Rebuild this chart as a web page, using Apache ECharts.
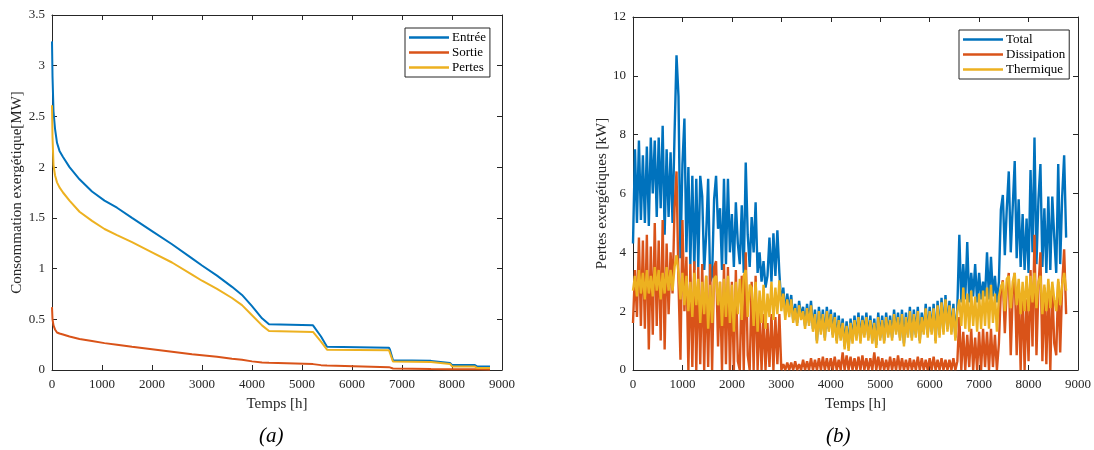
<!DOCTYPE html>
<html>
<head>
<meta charset="utf-8">
<script src="https://cdn.jsdelivr.net/npm/echarts@6/dist/echarts.min.js"></script>
<style>html,body{margin:0;padding:0;background:#fff}#c{width:1094px;height:450px}</style>
</head>
<body>
<div id="c"></div>
<script>
// ---------- Chart (a): duration curves ----------
const hoursA = [0,10,30,60,100,150,220,350,550,800,1050,1300,1600,2000,2400,2800,3000,3300,3600,3800,4000,4200,4340,5220,5260,5380,5500,6740,6760,6820,7580,7620,7960,8000,8450,8500,8760];
const entree = [3.24,2.9,2.55,2.38,2.24,2.16,2.1,2.0,1.88,1.76,1.67,1.6,1.5,1.37,1.24,1.1,1.03,0.93,0.82,0.74,0.63,0.51,0.45,0.44,0.43,0.33,0.23,0.22,0.2,0.095,0.09,0.075,0.07,0.05,0.05,0.035,0.035];
const sortie = [0.62,0.5,0.44,0.40,0.37,0.36,0.35,0.33,0.305,0.285,0.265,0.25,0.23,0.205,0.18,0.155,0.145,0.13,0.11,0.1,0.085,0.075,0.072,0.058,0.055,0.048,0.045,0.028,0.025,0.015,0.01,0.01,0.008,0.008,0.007,0.007,0.005];
const pertes = [2.61,2.3,2.02,1.92,1.85,1.80,1.75,1.67,1.56,1.47,1.39,1.33,1.26,1.16,1.06,0.94,0.88,0.8,0.71,0.64,0.54,0.44,0.385,0.375,0.37,0.28,0.2,0.195,0.18,0.083,0.08,0.065,0.06,0.035,0.035,0.02,0.02];

// ---------- Chart (b): hourly losses, read every 40 h (rows of 800 h) ----------
const stepB = 40;
const total = [
4.3,7.5,5.0,7.8,5.1,7.3,5.0,7.6,4.9,7.9,6.0,7.8,5.2,7.9,5.5,8.3,4.6,7.5,5.2,7.4,
5.0,8.0,10.7,9.3,3.8,7.0,8.55,4.0,6.9,3.6,6.6,3.4,6.5,3.5,6.6,5.9,3.4,4.6,6.5,3.0,
3.2,5.8,6.6,4.8,5.5,3.4,6.5,3.6,6.5,4.0,5.3,3.5,5.7,4.3,3.6,5.6,3.3,7.05,4.6,3.5,
5.2,4.0,5.7,3.3,4.0,3.0,3.7,2.8,3.2,4.5,3.0,4.65,3.2,4.75,3.3,2.2,2.8,1.9,2.6,2.0,
2.55,1.7,2.25,1.6,2.35,1.8,2.15,1.5,2.25,1.6,2.35,1.4,2.05,1.0,2.15,1.3,2.05,1.1,2.15,1.4,
2.05,1.2,1.95,1.0,1.85,1.1,1.75,0.8,1.65,0.75,1.75,1.0,1.85,1.1,1.95,1.0,1.85,1.2,1.95,1.1,
1.85,1.0,1.75,0.85,1.95,1.1,1.85,1.0,1.95,1.2,1.85,1.1,2.05,1.3,1.95,1.1,2.05,0.9,1.95,1.2,
2.15,1.1,2.05,1.2,2.15,1.0,1.95,1.3,2.25,1.2,2.15,1.3,2.25,1.0,2.35,1.2,2.45,1.3,2.55,1.4,
2.35,1.3,2.25,1.1,2.15,4.6,2.3,3.6,2.4,4.35,2.3,3.3,2.5,3.6,2.3,3.3,2.4,3.0,2.5,4.0,
2.4,3.85,2.5,3.2,2.3,3.0,5.45,5.95,3.9,5.5,6.75,4.0,5.55,7.1,3.8,5.8,3.5,5.3,3.4,5.15,
3.3,6.8,4.0,7.9,3.6,5.8,7.0,3.5,5.5,3.3,5.9,3.4,5.9,4.5,3.3,7.0,3.6,5.9,7.3,4.5];
const dissipation = [
1.6,3.4,1.8,4.5,1.5,4.4,1.4,4.6,0.7,4.2,1.2,5.0,1.5,4.4,1.0,5.1,0.7,4.3,1.9,4.0,
2.6,5.5,6.75,3.0,0.35,5.1,2.0,3.85,0.0,3.6,0.1,3.7,0.0,3.5,0.2,3.6,0.0,3.2,0.1,3.6,
0.0,3.5,3.7,0.8,3.0,0.0,3.6,0.2,3.5,0.0,3.0,0.0,3.4,0.3,0.0,3.2,0.0,4.0,0.5,0.0,
3.0,0.0,3.2,0.0,2.0,0.0,1.9,0.0,1.6,0.1,1.9,0.0,1.8,0.2,1.9,0.0,0.2,0.0,0.25,0.0,
0.25,0.0,0.3,0.0,0.2,0.0,0.35,0.0,0.3,0.0,0.4,0.0,0.35,0.0,0.4,0.0,0.45,0.0,0.4,0.0,
0.4,0.0,0.45,0.0,0.35,0.0,0.6,0.0,0.5,0.0,0.45,0.0,0.4,0.0,0.45,0.0,0.5,0.0,0.4,0.0,
0.4,0.0,0.6,0.0,0.45,0.0,0.4,0.0,0.35,0.0,0.45,0.0,0.4,0.0,0.5,0.0,0.4,0.0,0.35,0.0,
0.4,0.0,0.35,0.0,0.45,0.0,0.4,0.0,0.35,0.0,0.4,0.0,0.45,0.0,0.35,0.0,0.4,0.0,0.35,0.0,
0.35,0.0,0.4,0.0,0.3,1.8,0.0,1.3,0.0,1.2,0.1,1.4,0.0,1.1,0.0,1.3,0.0,1.4,0.1,1.3,
0.0,1.4,0.1,1.2,0.0,0.9,2.7,3.05,1.25,2.8,3.3,0.5,2.6,3.3,0.5,2.8,0.0,2.7,0.0,2.4,
0.3,3.4,0.8,4.6,0.5,2.8,4.0,0.3,2.8,0.2,2.9,0.0,2.8,0.9,0.5,3.0,0.6,2.9,4.1,1.9];
const thermique = [
2.7,3.2,2.5,3.4,2.6,3.3,2.4,3.4,2.6,3.2,2.5,3.5,2.7,3.4,2.4,3.3,2.6,3.5,2.7,3.4,
2.7,3.5,3.9,3.3,2.4,3.3,2.2,3.2,2.0,3.0,1.8,3.3,2.2,3.1,1.6,3.0,1.9,3.2,1.4,2.9,
1.6,3.1,3.2,2.2,3.0,1.5,3.1,1.8,3.2,1.6,2.9,1.3,3.0,1.9,3.1,1.7,3.2,3.4,1.8,2.9,
2.8,1.5,3.0,1.3,2.7,1.6,2.9,1.4,2.6,1.8,3.0,1.7,2.8,1.9,3.05,2.0,2.6,1.7,2.4,1.8,
2.4,1.6,2.1,1.5,2.2,1.7,2.0,1.4,2.1,1.5,2.2,1.3,1.9,0.9,2.0,1.2,1.9,1.0,2.0,1.3,
1.9,1.1,1.8,0.9,1.7,1.0,1.6,0.7,1.5,0.65,1.6,0.9,1.7,1.0,1.8,0.9,1.7,1.1,1.8,1.0,
1.7,0.9,1.6,0.75,1.8,1.0,1.7,0.9,1.8,1.1,1.7,1.0,1.9,1.2,1.8,1.0,1.9,0.8,1.8,1.1,
2.0,1.0,1.9,1.1,2.0,0.9,1.8,1.2,2.1,1.1,2.0,1.2,2.1,0.9,2.2,1.1,2.3,1.2,2.4,1.3,
2.2,1.2,2.1,1.0,2.0,2.4,1.5,2.8,1.4,2.6,1.3,2.7,1.5,2.5,1.3,2.6,1.4,2.7,1.5,2.8,
1.4,2.9,1.6,2.6,1.3,2.5,2.8,3.0,2.0,3.1,3.2,2.1,3.0,3.3,2.2,3.1,1.9,3.0,2.0,3.2,
2.0,3.2,2.3,3.3,2.1,3.0,3.2,1.9,2.9,2.0,3.1,2.1,3.0,2.4,2.0,3.1,2.2,2.9,3.3,2.7];

const xTicks = [0,1000,2000,3000,4000,5000,6000,7000,8000,9000];

const C_BLUE = '#0072BD', C_RED = '#D95319', C_YEL = '#EDB120';
const FONT = "'Liberation Serif','Times New Roman',serif";
const AX = '#262626';

const pairA = v => hoursA.map((h, i) => [h, v[i]]);
const pairB = v => v.map((y, i) => [i * stepB, y]);
const plain = v => String(v);

function xAx(grid, pos, show) {
  return {
    type: 'value', gridIndex: grid, position: pos, min: xTicks[0], max: xTicks[xTicks.length-1], interval: 1000,
    name: show ? 'Temps [h]' : '', nameLocation: 'middle', nameGap: 27,
    nameTextStyle: {fontFamily: FONT, fontSize: 15, color: AX},
    axisLine: {show: true, onZero: false, lineStyle: {color: AX, width: 1}},
    axisTick: {show: true, inside: true, length: 5, lineStyle: {color: AX}},
    axisLabel: {show: show, fontFamily: FONT, fontSize: 13, color: AX, margin: 8, formatter: plain},
    splitLine: {show: false}
  };
}
function yAx(grid, pos, show, max, interval, name, gap) {
  return {
    type: 'value', gridIndex: grid, position: pos, min: 0, max: max, interval: interval,
    name: show ? name : '', nameLocation: 'middle', nameGap: gap,
    nameTextStyle: {fontFamily: FONT, fontSize: 15, color: AX},
    axisLine: {show: true, onZero: false, lineStyle: {color: AX, width: 1}},
    axisTick: {show: true, inside: true, length: 5, lineStyle: {color: AX}},
    axisLabel: {show: show, fontFamily: FONT, fontSize: 13, color: AX, margin: 7, formatter: plain},
    splitLine: {show: false}
  };
}
function leg(names, left, top) {
  return {
    data: names, orient: 'vertical', left: left, top: top,
    icon: 'rect', itemWidth: 40, itemHeight: 2.5, itemGap: 0,
    padding: [2, 4, 2, 4],
    borderColor: AX, borderWidth: 1, backgroundColor: '#fff',
    textStyle: {fontFamily: FONT, fontSize: 13, color: '#000', lineHeight: 15, padding: [0,0,0,-2]},
    selectedMode: false
  };
}
function ln(name, data, color, xi, yi, w) {
  return {
    name: name, type: 'line', data: data, xAxisIndex: xi, yAxisIndex: yi,
    showSymbol: false, symbol: 'none', animation: false,
    lineStyle: {color: color, width: w}, itemStyle: {color: color}
  };
}

const chart = echarts.init(document.getElementById('c'), null, {renderer: 'canvas'});
chart.setOption({
  backgroundColor: '#fff',
  animation: false,
  grid: [
    {left: 52, right: 592, top: 15, bottom: 80},
    {left: 633, right: 15, top: 17, bottom: 80}
  ],
  xAxis: [xAx(0, 'bottom', true), xAx(1, 'bottom', true), xAx(0, 'top', false), xAx(1, 'top', false)],
  yAxis: [
    yAx(0, 'left', true, 3.5, 0.5, 'Consommation exergétique[MW]', 24),
    yAx(1, 'left', true, 12, 2, 'Pertes exergétiques [kW]', 23),
    yAx(0, 'right', false, 3.5, 0.5, '', 20),
    yAx(1, 'right', false, 12, 2, '', 20)
  ],
  legend: [
    leg(['Entrée', 'Sortie', 'Pertes'], 405, 28),
    leg(['Total', 'Dissipation', 'Thermique'], 959, 30)
  ],
  series: [
    ln('Entrée', pairA(entree), C_BLUE, 0, 0, 2),
    ln('Sortie', pairA(sortie), C_RED, 0, 0, 2),
    ln('Pertes', pairA(pertes), C_YEL, 0, 0, 2),
    ln('Total', pairB(total), C_BLUE, 1, 1, 2.4),
    ln('Dissipation', pairB(dissipation), C_RED, 1, 1, 2.4),
    ln('Thermique', pairB(thermique), C_YEL, 1, 1, 2.4)
  ],
  graphic: [
    {type: 'text', left: 259, top: 426, style: {text: '(a)', font: "italic 21px 'Liberation Serif', serif", fill: '#000'}},
    {type: 'text', left: 826, top: 426, style: {text: '(b)', font: "italic 21px 'Liberation Serif', serif", fill: '#000'}}
  ]
});
</script>
</body>
</html>
